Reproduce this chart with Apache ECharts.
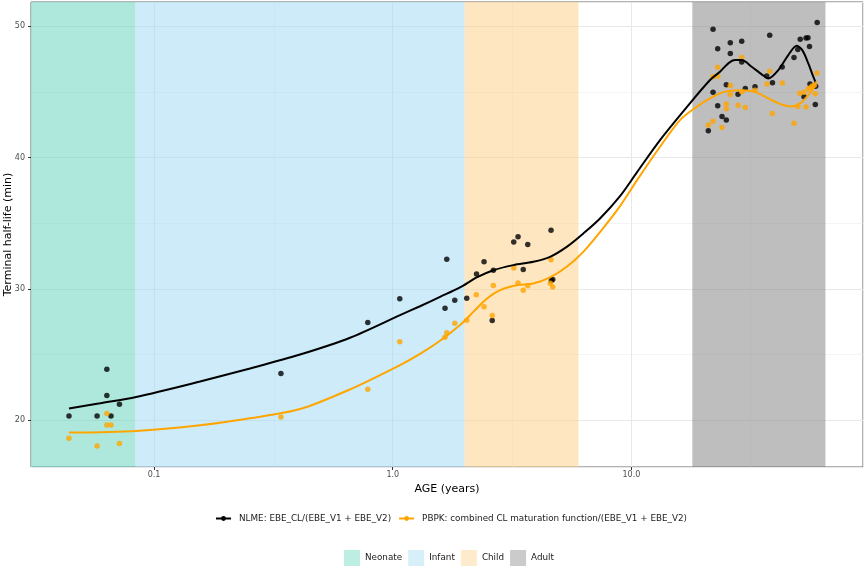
<!DOCTYPE html>
<html>
<head>
<meta charset="utf-8">
<script src="https://cdn.jsdelivr.net/npm/echarts@6/dist/echarts.min.js"></script>
<style>
html, body { margin: 0; padding: 0; background: #fff; }
#chart { width: 865px; height: 568px; }
</style>
</head>
<body>
<div id="chart"></div>
<script>
// observed points (age in years, terminal half-life in min)
var nlmeAge = [0.0440, 0.0577, 0.0634, 0.0634, 0.0660, 0.0716, 0.340, 0.786, 1.070, 1.656, 1.684, 1.819, 2.042,
    2.244, 2.413, 2.640, 2.611, 3.214, 3.349, 3.522, 3.678, 4.605, 4.62, 4.681,
    21.98, 22.99, 25.96, 28.99, 25.96, 28.99, 37.97, 60.02, 50.96, 53.89,
    54.94, 49.79, 55.74, 48.0, 42.83, 36.88, 39.0, 24.98, 21.98, 27.97,
    30.0, 32.95, 56.02, 59.17, 52.86, 22.99, 23.97, 24.98, 21.0, 58.95];
var nlmeHL = [20.33, 20.33, 23.88, 21.88, 20.33, 21.22, 23.56, 27.44, 29.24, 28.53, 32.26, 29.14, 29.29,
    31.14, 32.06, 31.42, 27.59, 33.56, 33.96, 31.48, 33.38, 34.46, 30.64, 30.72,
    49.76, 48.28, 48.74, 48.85, 47.91, 47.27, 49.31, 50.27, 49.00, 49.09,
    49.12, 48.22, 48.45, 47.61, 46.9, 46.21, 45.70, 45.54, 44.96, 44.81,
    45.26, 45.38, 45.59, 45.42, 44.62, 43.95, 43.12, 42.85, 42.03, 44.04];

var pbpkAge = [0.0440, 0.0577, 0.0634, 0.0634, 0.0660, 0.0716, 0.340, 0.786, 1.070, 1.656, 1.684, 1.819, 2.042,
    2.239, 2.413, 2.640, 2.611, 3.217, 3.349, 3.522, 3.678, 4.605, 4.574, 4.681,
    21.98, 22.99, 22.99, 28.99, 37.97, 36.99, 42.85, 25.96, 25.96, 28.99,
    32.95, 24.98, 24.98, 27.97, 30.0, 38.94, 21.98, 21.0, 23.97, 48.0,
    49.79, 53.89, 50.76, 52.86, 55.1, 56.17, 57.27, 58.38, 58.95, 59.9];
var pbpkHL = [18.63, 18.04, 20.51, 19.64, 19.64, 18.23, 20.25, 22.36, 25.98, 26.32, 26.66, 27.39, 27.62,
    29.56, 28.64, 30.26, 27.98, 31.59, 30.45, 29.90, 30.23, 32.21, 30.42, 30.15,
    46.15, 46.18, 46.87, 47.62, 46.56, 45.59, 45.67, 45.49, 44.79, 45.0,
    45.13, 44.07, 43.71, 43.98, 43.80, 43.36, 42.77, 42.47, 42.29, 42.6,
    43.89, 43.85, 44.90, 44.96, 45.21, 45.31, 45.44, 45.51, 44.85, 46.43];

// smoothed curves
var nlmeCurveAge = [0.0440, 0.0594, 0.0841, 0.1559, 0.2524, 0.4089, 0.6626, 1.073, 1.301, 1.578,
    1.914, 2.248, 2.640, 3.201, 3.882, 4.560, 5.357, 6.288, 7.387, 8.960,
    10.56, 13.18, 17.10, 21.35, 23.50, 25.47, 27.17, 28.99, 31.92, 35.15,
    37.46, 41.25, 45.43, 49.27, 52.0, 55.10, 57.83, 59.34];
var nlmeCurveHL = [20.89, 21.29, 21.77, 22.95, 23.94, 25.00, 26.28, 28.00, 28.68, 29.39,
    30.11, 30.87, 31.42, 31.81, 32.06, 32.44, 33.20, 34.22, 35.36, 37.06,
    38.89, 41.33, 43.86, 45.90, 46.53, 47.17, 47.42, 47.42, 46.91, 46.33,
    46.02, 46.66, 47.80, 48.51, 48.18, 47.17, 46.15, 45.67];

var pbpkCurveAge = [0.0440, 0.0841, 0.1559, 0.2524, 0.4089, 0.6626, 1.073, 1.301, 1.578, 1.914,
    2.176, 2.476, 2.815, 3.307, 3.882, 4.560, 5.357, 6.288, 7.387, 8.960,
    10.56, 13.18, 15.98, 18.77, 21.35, 23.50, 25.47, 28.99, 32.95, 37.46,
    42.63, 46.95, 50.85, 55.10, 57.83, 59.74];
var pbpkCurveHL = [19.06, 19.19, 19.62, 20.15, 20.85, 22.35, 24.20, 25.05, 26.05, 27.25,
    28.25, 29.25, 29.90, 30.28, 30.41, 30.87, 31.68, 32.82, 34.32, 36.30,
    38.28, 40.82, 42.85, 43.86, 44.50, 44.88, 45.06, 45.13, 45.00, 44.50,
    44.04, 43.89, 44.12, 44.75, 45.26, 45.82];

// age groups
var bandNames = ["Neonate", "Infant", "Child", "Adult"];
var bandStart = [0.0305, 1 / 12, 2, 18];
var bandEnd = [1 / 12, 2, 6, 65];
var bandFill = ["#5dd1b9", "#9bd7f1", "#fdcd81", "#7d7d7d"];
var bandKey = ["#aee8dc", "#cdebf8", "#fee6c0", "#bebebe"];

var nlmeName = "NLME: EBE_CL/(EBE_V1 + EBE_V2)";
var pbpkName = "PBPK: combined CL maturation function/(EBE_V1 + EBE_V2)";

var xMin = 0.0305, xMax = 93.4, yMin = 16.44, yMax = 51.84;
var xMinorLines = [0.0316, 0.316, 3.16, 31.6];
var yMinorLines = [25, 35, 45];
var font = "DejaVu Sans";

function zip(a, b) {
    var out = [];
    for (var i = 0; i < a.length; i++) out.push([a[i], b[i]]);
    return out;
}

var series = [];

// minor grid lines, under the bands
var minorData = [];
xMinorLines.forEach(function (v) { minorData.push({ xAxis: v }); });
yMinorLines.forEach(function (v) { minorData.push({ yAxis: v }); });
series.push({
    type: "line",
    name: "minor",
    data: [],
    silent: true,
    markLine: {
        z: 0.5,
        silent: true,
        symbol: "none",
        label: { show: false },
        lineStyle: { color: "#ececec", width: 0.6, type: "solid" },
        data: minorData
    }
});

// background bands
bandNames.forEach(function (name, i) {
    series.push({
        type: "scatter",
        name: name,
        data: [],
        itemStyle: { color: bandKey[i] },
        markArea: {
            z: 1,
            silent: true,
            itemStyle: { color: bandFill[i], opacity: 0.5 },
            data: [[{ xAxis: bandStart[i] }, { xAxis: bandEnd[i] }]]
        }
    });
});

series.push({
    type: "line", name: nlmeName, data: zip(nlmeCurveAge, nlmeCurveHL), smooth: 0.3,
    showSymbol: false, symbol: "circle", symbolSize: 5, z: 4,
    lineStyle: { color: "#000", width: 2 }, itemStyle: { color: "#000" }
});
series.push({
    type: "line", name: pbpkName, data: zip(pbpkCurveAge, pbpkCurveHL), smooth: 0.3,
    showSymbol: false, symbol: "circle", symbolSize: 5, z: 4,
    lineStyle: { color: "#FFA500", width: 2 }, itemStyle: { color: "#FFA500" }
});
series.push({
    type: "scatter", name: nlmeName, data: zip(nlmeAge, nlmeHL), symbolSize: 5.5, z: 3,
    itemStyle: { color: "#000" }
});
series.push({
    type: "scatter", name: pbpkName, data: zip(pbpkAge, pbpkHL), symbolSize: 5.5, z: 3,
    itemStyle: { color: "#FFA500" }
});

var chart = echarts.init(document.getElementById("chart"), null, { renderer: "canvas" });
chart.setOption({
    animation: false,
    backgroundColor: "#fff",
    textStyle: { fontFamily: font },
    grid: {
        left: 31, right: 2, top: 2, bottom: 101,
        containLabel: false, outerBoundsMode: "none",
        show: true, borderColor: "#666", borderWidth: 1, backgroundColor: "transparent"
    },
    xAxis: {
        type: "log", logBase: 10, min: xMin, max: xMax,
        name: "AGE (years)", nameLocation: "middle", nameGap: 15,
        nameTextStyle: { fontFamily: font, fontSize: 11, color: "#000" },
        axisLine: { show: false },
        axisTick: { show: true, length: 3, lineStyle: { color: "#333" } },
        axisLabel: {
            fontFamily: font, fontSize: 8, color: "#4d4d4d", margin: 4,
            showMinLabel: false, showMaxLabel: false,
            formatter: function (v) { return Number(v).toFixed(1); }
        },
        splitLine: { show: true, lineStyle: { color: "#e8e8e8", width: 1 } }
    },
    yAxis: {
        type: "value", min: yMin, max: yMax, splitNumber: 4,
        name: "Terminal half-life (min)", nameLocation: "middle", nameGap: 17,
        nameMoveOverlap: false,
        nameTextStyle: { fontFamily: font, fontSize: 11, color: "#000" },
        axisLine: { show: false },
        axisTick: { show: true, length: 3, lineStyle: { color: "#333" } },
        axisLabel: {
            fontFamily: font, fontSize: 8, color: "#4d4d4d", margin: 6,
            showMinLabel: false, showMaxLabel: false
        },
        splitLine: { show: true, lineStyle: { color: "#e8e8e8", width: 1 } }
    },
    legend: [{
        data: [nlmeName, pbpkName],
        left: 215, top: 514, padding: 0,
        itemWidth: 15, itemHeight: 6, itemGap: 7,
        textStyle: { fontFamily: font, fontSize: 8.8, color: "#1a1a1a", padding: [0, 0, 0, 3] },
        selectedMode: false
    }, {
        data: bandNames,
        icon: "rect",
        left: 344, top: 550, padding: 0,
        itemWidth: 16, itemHeight: 16, itemGap: 6,
        textStyle: { fontFamily: font, fontSize: 8.8, color: "#1a1a1a" },
        selectedMode: false
    }],
    series: series
});
</script>
</body>
</html>
